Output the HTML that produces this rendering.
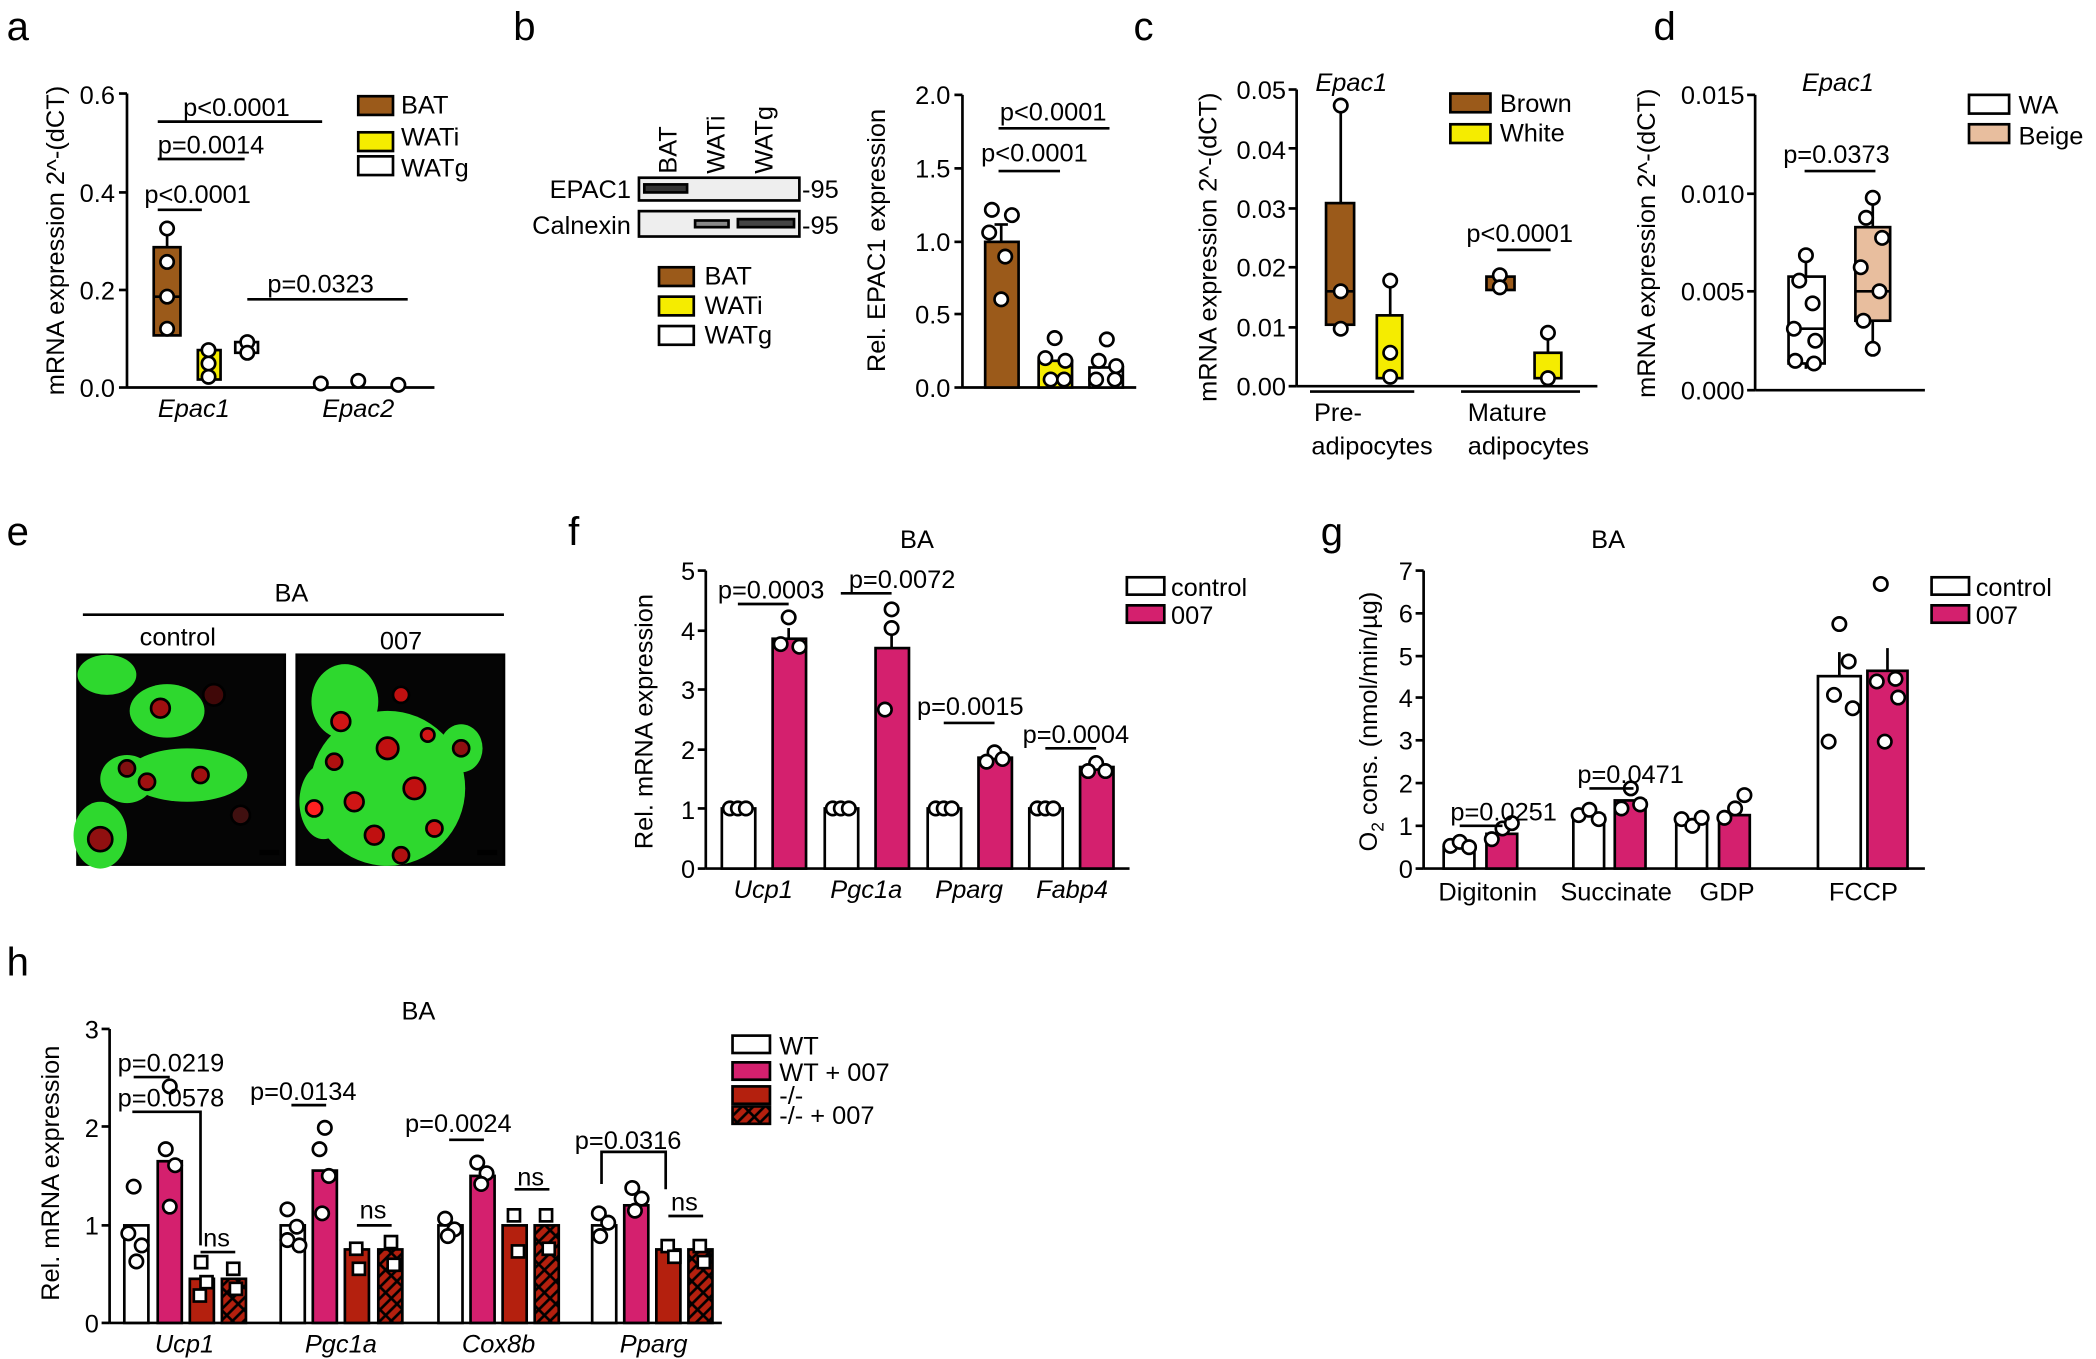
<!DOCTYPE html>
<html><head><meta charset="utf-8"><style>
html,body{margin:0;padding:0;background:#fff;}
svg{display:block;}
text{font-family:"Liberation Sans",Arial,sans-serif;fill:#000;}
.t{font-size:19px;}
.l{font-size:19px;}
.i{font-style:italic;font-size:19px;}
.p{font-size:19px;}
.L{font-size:30px;font-weight:normal;}
line,path,rect,circle{stroke:#000;stroke-width:2;}
.d{fill:#fff;stroke:#000;stroke-width:2;}
</style></head><body>
<svg width="2096" height="1359" viewBox="0 0 1568 1017" preserveAspectRatio="none" xmlns="http://www.w3.org/2000/svg">
<text class="L" x="5" y="30">a</text><text class="L" x="384" y="30">b</text><text class="L" x="848" y="30">c</text><text class="L" x="1237" y="30">d</text>
<text class="L" x="5" y="408">e</text><text class="L" x="425" y="408">f</text><text class="L" x="988" y="408">g</text><text class="L" x="5" y="730">h</text>

<!-- ===== a ===== -->
<g>
<text class="l" transform="translate(48,180) rotate(-90)" text-anchor="middle">mRNA expression 2^-(dCT)</text>
<line x1="95" y1="70" x2="95" y2="290"/><line x1="95" y1="290" x2="325" y2="290"/>
<g text-anchor="end" class="t"><text x="86" y="297">0.0</text><text x="86" y="224">0.2</text><text x="86" y="151">0.4</text><text x="86" y="78">0.6</text></g>
<line x1="89" y1="290" x2="95" y2="290"/><line x1="89" y1="217" x2="95" y2="217"/><line x1="89" y1="144" x2="95" y2="144"/><line x1="89" y1="70" x2="95" y2="70"/>
<text class="i" x="145" y="312" text-anchor="middle">Epac1</text><text class="i" x="268" y="312" text-anchor="middle">Epac2</text>
<line x1="125" y1="172" x2="125" y2="185"/><rect x="115" y="185" width="20" height="66" fill="#9B5A1A"/><line x1="115" y1="222" x2="135" y2="222"/>
<circle class="d" cx="125" cy="171" r="5"/><circle class="d" cx="125" cy="196" r="5"/><circle class="d" cx="125" cy="222" r="5"/><circle class="d" cx="125" cy="246" r="5"/>
<rect x="148" y="262" width="17" height="22" fill="#F5EC00"/><circle class="d" cx="156" cy="262" r="5"/><circle class="d" cx="156" cy="272" r="5"/><circle class="d" cx="156" cy="282" r="5"/>
<rect x="176" y="256" width="17" height="8" fill="#fff"/><circle class="d" cx="185" cy="256" r="5"/><circle class="d" cx="185" cy="264" r="5"/>
<circle class="d" cx="240" cy="287" r="5"/><circle class="d" cx="268" cy="285" r="5"/><circle class="d" cx="298" cy="288" r="5"/>
<line x1="118" y1="91" x2="241" y2="91"/><line x1="118" y1="119" x2="183" y2="119"/><line x1="118" y1="157" x2="151" y2="157"/><line x1="185" y1="224" x2="305" y2="224"/>
<g class="p"><text x="137" y="87">p&lt;0.0001</text><text x="118" y="115">p=0.0014</text><text x="108" y="152">p&lt;0.0001</text><text x="200" y="219">p=0.0323</text></g>
<rect x="268" y="72" width="26" height="14" fill="#9B5A1A"/><rect x="268" y="99" width="26" height="14" fill="#F5EC00"/><rect x="268" y="117" width="26" height="14" fill="#fff"/>
<g class="l"><text x="300" y="85">BAT</text><text x="300" y="109">WATi</text><text x="300" y="132">WATg</text></g>
</g>

<!-- ===== b ===== -->
<g>
<g class="l"><text transform="translate(506,130) rotate(-90)">BAT</text><text transform="translate(542,130) rotate(-90)">WATi</text><text transform="translate(578,130) rotate(-90)">WATg</text></g>
<rect x="478" y="133" width="120" height="17" fill="#eee"/><rect x="482" y="138" width="32" height="6" fill="#333" stroke="none"/>
<rect x="478" y="158" width="120" height="19" fill="#eee"/><rect x="520" y="165" width="25" height="5" fill="#888" stroke="none"/><rect x="552" y="164" width="42" height="6" fill="#444" stroke="none"/>
<g class="l"><text x="472" y="148" text-anchor="end">EPAC1</text><text x="472" y="175" text-anchor="end">Calnexin</text><text x="600" y="148">-95</text><text x="600" y="175">-95</text></g>
<rect x="493" y="200" width="26" height="14" fill="#9B5A1A"/><rect x="493" y="222" width="26" height="14" fill="#F5EC00"/><rect x="493" y="244" width="26" height="14" fill="#fff"/>
<g class="l"><text x="527" y="213">BAT</text><text x="527" y="235">WATi</text><text x="527" y="257">WATg</text></g>
<text class="l" transform="translate(662,180) rotate(-90)" text-anchor="middle">Rel. EPAC1 expression</text>
<line x1="720" y1="71" x2="720" y2="290"/><line x1="720" y1="290" x2="850" y2="290"/>
<g text-anchor="end" class="t"><text x="711" y="297">0.0</text><text x="711" y="242">0.5</text><text x="711" y="188">1.0</text><text x="711" y="133">1.5</text><text x="711" y="78">2.0</text></g>
<line x1="714" y1="290" x2="720" y2="290"/><line x1="714" y1="235" x2="720" y2="235"/><line x1="714" y1="181" x2="720" y2="181"/><line x1="714" y1="126" x2="720" y2="126"/><line x1="714" y1="71" x2="720" y2="71"/>
<rect x="737" y="181" width="25" height="109" fill="#9B5A1A"/><line x1="749" y1="168" x2="749" y2="181"/><line x1="744" y1="168" x2="754" y2="168"/>
<rect x="777" y="270" width="25" height="20" fill="#F5EC00"/><rect x="815" y="275" width="25" height="15" fill="#fff"/>
<circle class="d" cx="742" cy="157" r="5"/><circle class="d" cx="757" cy="161" r="5"/><circle class="d" cx="740" cy="174" r="5"/><circle class="d" cx="752" cy="192" r="5"/><circle class="d" cx="749" cy="224" r="5"/>
<circle class="d" cx="789" cy="253" r="5"/><circle class="d" cx="782" cy="268" r="5"/><circle class="d" cx="797" cy="270" r="5"/><circle class="d" cx="786" cy="284" r="5"/><circle class="d" cx="796" cy="284" r="5"/>
<circle class="d" cx="828" cy="254" r="5"/><circle class="d" cx="822" cy="270" r="5"/><circle class="d" cx="835" cy="274" r="5"/><circle class="d" cx="820" cy="284" r="5"/><circle class="d" cx="834" cy="284" r="5"/>
<line x1="747" y1="96" x2="830" y2="96"/><line x1="747" y1="128" x2="793" y2="128"/>
<g class="p"><text x="748" y="90">p&lt;0.0001</text><text x="734" y="121">p&lt;0.0001</text></g>
</g>

<!-- ===== c ===== -->
<g>
<text class="l" transform="translate(910,185) rotate(-90)" text-anchor="middle">mRNA expression 2^-(dCT)</text>
<line x1="970" y1="67" x2="970" y2="289"/><line x1="970" y1="289" x2="1195" y2="289"/>
<g text-anchor="end" class="t"><text x="962" y="296">0.00</text><text x="962" y="252">0.01</text><text x="962" y="207">0.02</text><text x="962" y="163">0.03</text><text x="962" y="119">0.04</text><text x="962" y="74">0.05</text></g>
<line x1="964" y1="289" x2="970" y2="289"/><line x1="964" y1="245" x2="970" y2="245"/><line x1="964" y1="200" x2="970" y2="200"/><line x1="964" y1="156" x2="970" y2="156"/><line x1="964" y1="111" x2="970" y2="111"/><line x1="964" y1="67" x2="970" y2="67"/>
<text class="i" x="984" y="68">Epac1</text>
<line x1="1003" y1="79" x2="1003" y2="152"/><rect x="992" y="152" width="21" height="91" fill="#9B5A1A"/><line x1="992" y1="218" x2="1013" y2="218"/>
<circle class="d" cx="1003" cy="79" r="5"/><circle class="d" cx="1003" cy="218" r="5"/><circle class="d" cx="1003" cy="246" r="5"/>
<line x1="1040" y1="210" x2="1040" y2="236"/><rect x="1030" y="236" width="19" height="47" fill="#F5EC00"/><circle class="d" cx="1040" cy="210" r="5"/><circle class="d" cx="1040" cy="264" r="5"/><circle class="d" cx="1040" cy="282" r="5"/>
<rect x="1112" y="207" width="21" height="10" fill="#9B5A1A"/><circle class="d" cx="1122" cy="206" r="5"/><circle class="d" cx="1122" cy="215" r="5"/>
<line x1="1158" y1="249" x2="1158" y2="264"/><rect x="1148" y="264" width="20" height="19" fill="#F5EC00"/><circle class="d" cx="1158" cy="249" r="5"/><circle class="d" cx="1158" cy="283" r="5"/>
<line x1="1120" y1="187" x2="1160" y2="187"/><text class="p" x="1097" y="181">p&lt;0.0001</text>
<line x1="980" y1="293" x2="1058" y2="293"/><line x1="1093" y1="293" x2="1182" y2="293"/>
<g class="l"><text x="983" y="315">Pre-</text><text x="981" y="340">adipocytes</text><text x="1098" y="315">Mature</text><text x="1098" y="340">adipocytes</text></g>
<rect x="1085" y="70" width="30" height="14" fill="#9B5A1A"/><rect x="1085" y="93" width="30" height="14" fill="#F5EC00"/>
<g class="l"><text x="1122" y="84">Brown</text><text x="1122" y="106">White</text></g>
</g>

<!-- ===== d ===== -->
<g>
<text class="l" transform="translate(1238,182) rotate(-90)" text-anchor="middle">mRNA expression 2^-(dCT)</text>
<line x1="1313" y1="71" x2="1313" y2="292"/><line x1="1313" y1="292" x2="1440" y2="292"/>
<g text-anchor="end" class="t"><text x="1305" y="299">0.000</text><text x="1305" y="225">0.005</text><text x="1305" y="152">0.010</text><text x="1305" y="78">0.015</text></g>
<line x1="1307" y1="292" x2="1313" y2="292"/><line x1="1307" y1="218" x2="1313" y2="218"/><line x1="1307" y1="145" x2="1313" y2="145"/><line x1="1307" y1="71" x2="1313" y2="71"/>
<text class="i" x="1348" y="68">Epac1</text>
<line x1="1351" y1="190" x2="1351" y2="207"/><line x1="1351" y1="272" x2="1351" y2="276"/><rect x="1338" y="207" width="27" height="65" fill="#fff"/><line x1="1338" y1="246" x2="1365" y2="246"/>
<circle class="d" cx="1351" cy="191" r="5"/><circle class="d" cx="1346" cy="210" r="5"/><circle class="d" cx="1356" cy="227" r="5"/><circle class="d" cx="1342" cy="246" r="5"/><circle class="d" cx="1358" cy="255" r="5"/><circle class="d" cx="1343" cy="270" r="5"/><circle class="d" cx="1357" cy="272" r="5"/>
<line x1="1401" y1="148" x2="1401" y2="170"/><line x1="1401" y1="240" x2="1401" y2="261"/><rect x="1388" y="170" width="26" height="70" fill="#E8BE9E"/><line x1="1388" y1="218" x2="1414" y2="218"/>
<circle class="d" cx="1401" cy="148" r="5"/><circle class="d" cx="1396" cy="163" r="5"/><circle class="d" cx="1408" cy="178" r="5"/><circle class="d" cx="1392" cy="200" r="5"/><circle class="d" cx="1406" cy="218" r="5"/><circle class="d" cx="1394" cy="240" r="5"/><circle class="d" cx="1401" cy="261" r="5"/>
<line x1="1350" y1="128" x2="1403" y2="128"/><text class="p" x="1334" y="122">p=0.0373</text>
<rect x="1473" y="71" width="30" height="14" fill="#fff"/><rect x="1473" y="93" width="30" height="14" fill="#E8BE9E"/>
<g class="l"><text x="1510" y="85">WA</text><text x="1510" y="108">Beige</text></g>
</g>

<!-- ===== e ===== -->
<g>
<text class="l" x="218" y="450" text-anchor="middle">BA</text>
<line x1="62" y1="460" x2="377" y2="460"/>
<text class="l" x="133" y="483" text-anchor="middle">control</text><text class="l" x="300" y="486" text-anchor="middle">007</text>
<rect x="58" y="490" width="155" height="157" fill="#050505" stroke="none"/>
<rect x="222" y="490" width="155" height="157" fill="#050505" stroke="none"/>
<g stroke="none">
<ellipse cx="80" cy="505" rx="22" ry="15" fill="#2ed82e"/><ellipse cx="125" cy="532" rx="28" ry="20" fill="#2ed82e"/><ellipse cx="140" cy="580" rx="45" ry="20" fill="#2ed82e"/><ellipse cx="95" cy="583" rx="20" ry="18" fill="#2ed82e"/><ellipse cx="75" cy="625" rx="20" ry="25" fill="#2ed82e"/>
<circle cx="120" cy="530" r="7" fill="#a01010"/><circle cx="110" cy="585" r="6" fill="#a01010"/><circle cx="75" cy="628" r="9" fill="#901010"/><circle cx="150" cy="580" r="6" fill="#a01010"/><circle cx="95" cy="575" r="6" fill="#801010"/><circle cx="160" cy="520" r="8" fill="#400808"/><circle cx="180" cy="610" r="7" fill="#401010"/>
<ellipse cx="290" cy="590" rx="58" ry="58" fill="#2ed82e"/><ellipse cx="258" cy="525" rx="25" ry="28" fill="#2ed82e"/><ellipse cx="345" cy="560" rx="16" ry="18" fill="#2ed82e"/><ellipse cx="242" cy="600" rx="18" ry="28" fill="#2ed82e"/>
<circle cx="255" cy="540" r="7" fill="#d01515"/><circle cx="290" cy="560" r="8" fill="#c01010"/><circle cx="265" cy="600" r="7" fill="#d01515"/><circle cx="310" cy="590" r="8" fill="#c01010"/><circle cx="280" cy="625" r="7" fill="#c01010"/><circle cx="325" cy="620" r="6" fill="#d01515"/><circle cx="345" cy="560" r="6" fill="#901010"/><circle cx="235" cy="605" r="6" fill="#ff2020"/><circle cx="300" cy="520" r="6" fill="#c01010"/><circle cx="250" cy="570" r="6" fill="#b01010"/><circle cx="320" cy="550" r="5" fill="#d01515"/><circle cx="300" cy="640" r="6" fill="#b01010"/>
<rect x="195" y="637" width="13" height="2" fill="#fff"/><rect x="358" y="637" width="13" height="2" fill="#fff"/>
</g>
</g>

<!-- ===== f ===== -->
<g>
<text class="t" x="686" y="410" text-anchor="middle">BA</text>
<text class="l" transform="translate(488,540) rotate(-90)" text-anchor="middle">Rel. mRNA expression</text>
<line x1="528" y1="427" x2="528" y2="650"/><line x1="528" y1="650" x2="845" y2="650"/>
<g text-anchor="end" class="t"><text x="520" y="657">0</text><text x="520" y="613">1</text><text x="520" y="568">2</text><text x="520" y="523">3</text><text x="520" y="479">4</text><text x="520" y="434">5</text></g>
<line x1="522" y1="650" x2="528" y2="650"/><line x1="522" y1="605" x2="528" y2="605"/><line x1="522" y1="561" x2="528" y2="561"/><line x1="522" y1="516" x2="528" y2="516"/><line x1="522" y1="472" x2="528" y2="472"/><line x1="522" y1="427" x2="528" y2="427"/>
<rect x="540" y="605" width="25" height="45" fill="#fff"/><rect x="578" y="478" width="25" height="172" fill="#D4206E"/>
<rect x="617" y="605" width="25" height="45" fill="#fff"/><rect x="655" y="485" width="25" height="165" fill="#D4206E"/>
<rect x="694" y="605" width="25" height="45" fill="#fff"/><rect x="732" y="567" width="25" height="83" fill="#D4206E"/>
<rect x="770" y="605" width="25" height="45" fill="#fff"/><rect x="808" y="574" width="25" height="76" fill="#D4206E"/>
<line x1="590" y1="470" x2="590" y2="478"/><line x1="667" y1="465" x2="667" y2="485"/>
<g><circle class="d" cx="546" cy="605" r="5"/><circle class="d" cx="552" cy="605" r="5"/><circle class="d" cx="558" cy="605" r="5"/>
<circle class="d" cx="623" cy="605" r="5"/><circle class="d" cx="629" cy="605" r="5"/><circle class="d" cx="635" cy="605" r="5"/>
<circle class="d" cx="700" cy="605" r="5"/><circle class="d" cx="706" cy="605" r="5"/><circle class="d" cx="712" cy="605" r="5"/>
<circle class="d" cx="776" cy="605" r="5"/><circle class="d" cx="782" cy="605" r="5"/><circle class="d" cx="788" cy="605" r="5"/>
<circle class="d" cx="590" cy="462" r="5"/><circle class="d" cx="584" cy="482" r="5"/><circle class="d" cx="598" cy="484" r="5"/>
<circle class="d" cx="667" cy="456" r="5"/><circle class="d" cx="667" cy="470" r="5"/><circle class="d" cx="662" cy="531" r="5"/>
<circle class="d" cx="744" cy="563" r="5"/><circle class="d" cx="738" cy="570" r="5"/><circle class="d" cx="750" cy="568" r="5"/>
<circle class="d" cx="820" cy="571" r="5"/><circle class="d" cx="814" cy="577" r="5"/><circle class="d" cx="827" cy="577" r="5"/></g>
<line x1="552" y1="452" x2="590" y2="452"/><line x1="629" y1="444" x2="667" y2="444"/><line x1="706" y1="541" x2="744" y2="541"/><line x1="782" y1="560" x2="820" y2="560"/>
<g class="p"><text x="537" y="448">p=0.0003</text><text x="635" y="440">p=0.0072</text><text x="686" y="535">p=0.0015</text><text x="765" y="556">p=0.0004</text></g>
<g class="i" text-anchor="middle"><text x="571" y="672">Ucp1</text><text x="648" y="672">Pgc1a</text><text x="725" y="672">Pparg</text><text x="802" y="672">Fabp4</text></g>
<rect x="843" y="432" width="28" height="13" fill="#fff"/><rect x="843" y="453" width="28" height="13" fill="#D4206E"/>
<g class="l"><text x="876" y="446">control</text><text x="876" y="467">007</text></g>
</g>

<!-- ===== g ===== -->
<g>
<text class="t" x="1203" y="410" text-anchor="middle">BA</text>
<text class="l" transform="translate(1030,540) rotate(-90)" text-anchor="middle">O<tspan font-size="13" dy="5">2</tspan><tspan dy="-5"> cons. (nmol/min/µg)</tspan></text>
<line x1="1065" y1="427" x2="1065" y2="650"/><line x1="1065" y1="650" x2="1440" y2="650"/>
<g text-anchor="end" class="t"><text x="1057" y="657">0</text><text x="1057" y="625">1</text><text x="1057" y="593">2</text><text x="1057" y="561">3</text><text x="1057" y="529">4</text><text x="1057" y="498">5</text><text x="1057" y="466">6</text><text x="1057" y="434">7</text></g>
<g><line x1="1059" y1="650" x2="1065" y2="650"/><line x1="1059" y1="618" x2="1065" y2="618"/><line x1="1059" y1="586" x2="1065" y2="586"/><line x1="1059" y1="554" x2="1065" y2="554"/><line x1="1059" y1="522" x2="1065" y2="522"/><line x1="1059" y1="491" x2="1065" y2="491"/><line x1="1059" y1="459" x2="1065" y2="459"/><line x1="1059" y1="427" x2="1065" y2="427"/></g>
<rect x="1080" y="634" width="23" height="16" fill="#fff"/><rect x="1112" y="624" width="23" height="26" fill="#D4206E"/>
<rect x="1177" y="610" width="23" height="40" fill="#fff"/><rect x="1208" y="599" width="23" height="51" fill="#D4206E"/>
<rect x="1254" y="615" width="23" height="35" fill="#fff"/><rect x="1286" y="610" width="23" height="40" fill="#D4206E"/>
<rect x="1360" y="506" width="32" height="144" fill="#fff"/><rect x="1397" y="502" width="30" height="148" fill="#D4206E"/>
<line x1="1376" y1="488" x2="1376" y2="506"/><line x1="1412" y1="485" x2="1412" y2="502"/>
<g><circle class="d" cx="1085" cy="633" r="5"/><circle class="d" cx="1092" cy="630" r="5"/><circle class="d" cx="1099" cy="634" r="5"/>
<circle class="d" cx="1116" cy="628" r="5"/><circle class="d" cx="1124" cy="620" r="5"/><circle class="d" cx="1131" cy="616" r="5"/>
<circle class="d" cx="1181" cy="610" r="5"/><circle class="d" cx="1189" cy="606" r="5"/><circle class="d" cx="1196" cy="613" r="5"/>
<circle class="d" cx="1213" cy="605" r="5"/><circle class="d" cx="1220" cy="590" r="5"/><circle class="d" cx="1227" cy="602" r="5"/>
<circle class="d" cx="1258" cy="613" r="5"/><circle class="d" cx="1266" cy="618" r="5"/><circle class="d" cx="1273" cy="612" r="5"/>
<circle class="d" cx="1290" cy="612" r="5"/><circle class="d" cx="1298" cy="605" r="5"/><circle class="d" cx="1305" cy="595" r="5"/>
<circle class="d" cx="1368" cy="555" r="5"/><circle class="d" cx="1376" cy="467" r="5"/><circle class="d" cx="1383" cy="495" r="5"/><circle class="d" cx="1372" cy="520" r="5"/><circle class="d" cx="1386" cy="530" r="5"/>
<circle class="d" cx="1407" cy="437" r="5"/><circle class="d" cx="1404" cy="510" r="5"/><circle class="d" cx="1418" cy="508" r="5"/><circle class="d" cx="1410" cy="555" r="5"/><circle class="d" cx="1420" cy="522" r="5"/></g>
<line x1="1092" y1="618" x2="1124" y2="618"/><line x1="1189" y1="590" x2="1222" y2="590"/>
<g class="p"><text x="1085" y="614">p=0.0251</text><text x="1180" y="586">p=0.0471</text></g>
<g class="t" text-anchor="middle"><text x="1113" y="674">Digitonin</text><text x="1209" y="674">Succinate</text><text x="1292" y="674">GDP</text><text x="1394" y="674">FCCP</text></g>
<rect x="1445" y="432" width="28" height="13" fill="#fff"/><rect x="1445" y="453" width="28" height="13" fill="#D4206E"/>
<g class="l"><text x="1478" y="446">control</text><text x="1478" y="467">007</text></g>
</g>

<!-- ===== h ===== -->
<g>
<text class="t" x="313" y="763" text-anchor="middle">BA</text>
<text class="l" transform="translate(44,878) rotate(-90)" text-anchor="middle">Rel. mRNA expression</text>
<line x1="82" y1="770" x2="82" y2="990"/><line x1="82" y1="990" x2="540" y2="990"/>
<g text-anchor="end" class="t"><text x="74" y="997">0</text><text x="74" y="924">1</text><text x="74" y="851">2</text><text x="74" y="777">3</text></g>
<line x1="76" y1="990" x2="82" y2="990"/><line x1="76" y1="917" x2="82" y2="917"/><line x1="76" y1="843" x2="82" y2="843"/><line x1="76" y1="770" x2="82" y2="770"/>
<defs><pattern id="hp" width="12" height="12" patternUnits="userSpaceOnUse" patternTransform="rotate(-45)"><rect width="12" height="12" fill="#B4200E" stroke="none"/><line x1="0" y1="6" x2="12" y2="6" stroke="#d86060" stroke-width="1"/></pattern></defs>
<g>
<rect x="93" y="917" width="18" height="73" fill="#fff"/><rect x="118" y="869" width="18" height="121" fill="#D4206E"/><rect x="142" y="957" width="18" height="33" fill="#B4200E"/><rect x="166" y="957" width="18" height="33" fill="url(#hp)"/>
<rect x="210" y="917" width="18" height="73" fill="#fff"/><rect x="234" y="876" width="18" height="114" fill="#D4206E"/><rect x="258" y="935" width="18" height="55" fill="#B4200E"/><rect x="283" y="935" width="18" height="55" fill="url(#hp)"/>
<rect x="328" y="917" width="18" height="73" fill="#fff"/><rect x="352" y="880" width="18" height="110" fill="#D4206E"/><rect x="376" y="917" width="18" height="73" fill="#B4200E"/><rect x="400" y="917" width="18" height="73" fill="url(#hp)"/>
<rect x="443" y="917" width="18" height="73" fill="#fff"/><rect x="467" y="902" width="18" height="88" fill="#D4206E"/><rect x="491" y="935" width="18" height="55" fill="#B4200E"/><rect x="515" y="935" width="18" height="55" fill="url(#hp)"/>
</g>
<g><circle class="d" cx="100" cy="888" r="5"/><circle class="d" cx="96" cy="923" r="5"/><circle class="d" cx="106" cy="932" r="5"/><circle class="d" cx="102" cy="944" r="5"/>
<circle class="d" cx="127" cy="813" r="5"/><circle class="d" cx="124" cy="860" r="5"/><circle class="d" cx="131" cy="872" r="5"/><circle class="d" cx="127" cy="903" r="5"/>
<rect class="d" x="146" y="940" width="9" height="9"/><rect class="d" x="150" y="955" width="9" height="9"/><rect class="d" x="145" y="965" width="9" height="9"/><rect class="d" x="170" y="945" width="9" height="9"/><rect class="d" x="172" y="960" width="9" height="9"/>
<circle class="d" cx="215" cy="905" r="5"/><circle class="d" cx="222" cy="918" r="5"/><circle class="d" cx="215" cy="928" r="5"/><circle class="d" cx="224" cy="932" r="5"/>
<circle class="d" cx="243" cy="844" r="5"/><circle class="d" cx="239" cy="860" r="5"/><circle class="d" cx="246" cy="880" r="5"/><circle class="d" cx="241" cy="908" r="5"/>
<rect class="d" x="262" y="930" width="9" height="9"/><rect class="d" x="264" y="945" width="9" height="9"/><rect class="d" x="288" y="925" width="9" height="9"/><rect class="d" x="290" y="942" width="9" height="9"/>
<circle class="d" cx="333" cy="912" r="5"/><circle class="d" cx="340" cy="920" r="5"/><circle class="d" cx="335" cy="925" r="5"/>
<circle class="d" cx="357" cy="870" r="5"/><circle class="d" cx="364" cy="878" r="5"/><circle class="d" cx="360" cy="886" r="5"/>
<rect class="d" x="380" y="905" width="9" height="9"/><rect class="d" x="383" y="932" width="9" height="9"/><rect class="d" x="404" y="905" width="9" height="9"/><rect class="d" x="406" y="930" width="9" height="9"/>
<circle class="d" cx="448" cy="908" r="5"/><circle class="d" cx="455" cy="915" r="5"/><circle class="d" cx="449" cy="925" r="5"/>
<circle class="d" cx="473" cy="889" r="5"/><circle class="d" cx="480" cy="897" r="5"/><circle class="d" cx="475" cy="906" r="5"/>
<rect class="d" x="495" y="928" width="9" height="9"/><rect class="d" x="500" y="936" width="9" height="9"/><rect class="d" x="519" y="928" width="9" height="9"/><rect class="d" x="522" y="940" width="9" height="9"/></g>
<line x1="100" y1="806" x2="127" y2="806"/><path d="M100 833 V832 H150 V932" fill="none"/>
<line x1="218" y1="827" x2="244" y2="827"/><line x1="336" y1="853" x2="362" y2="853"/><path d="M450 886 V862 H498 V890" fill="none"/>
<line x1="150" y1="937" x2="176" y2="937"/><line x1="267" y1="917" x2="293" y2="917"/><line x1="385" y1="890" x2="411" y2="890"/><line x1="500" y1="910" x2="526" y2="910"/>
<g class="p"><text x="88" y="802">p=0.0219</text><text x="88" y="828">p=0.0578</text><text x="187" y="823">p=0.0134</text><text x="303" y="847">p=0.0024</text><text x="430" y="860">p=0.0316</text></g>
<g class="l"><text x="152" y="933">ns</text><text x="269" y="912">ns</text><text x="387" y="887">ns</text><text x="502" y="906">ns</text></g>
<g class="i" text-anchor="middle"><text x="138" y="1012">Ucp1</text><text x="255" y="1012">Pgc1a</text><text x="373" y="1012">Cox8b</text><text x="489" y="1012">Pparg</text></g>
<rect x="548" y="775" width="28" height="13" fill="#fff"/><rect x="548" y="795" width="28" height="13" fill="#D4206E"/><rect x="548" y="813" width="28" height="13" fill="#B4200E"/><rect x="548" y="828" width="28" height="13" fill="url(#hp)"/>
<g class="l"><text x="583" y="789">WT</text><text x="583" y="809">WT + 007</text><text x="583" y="826">-/-</text><text x="583" y="841">-/- + 007</text></g>
</g>
</svg>
</body></html>
